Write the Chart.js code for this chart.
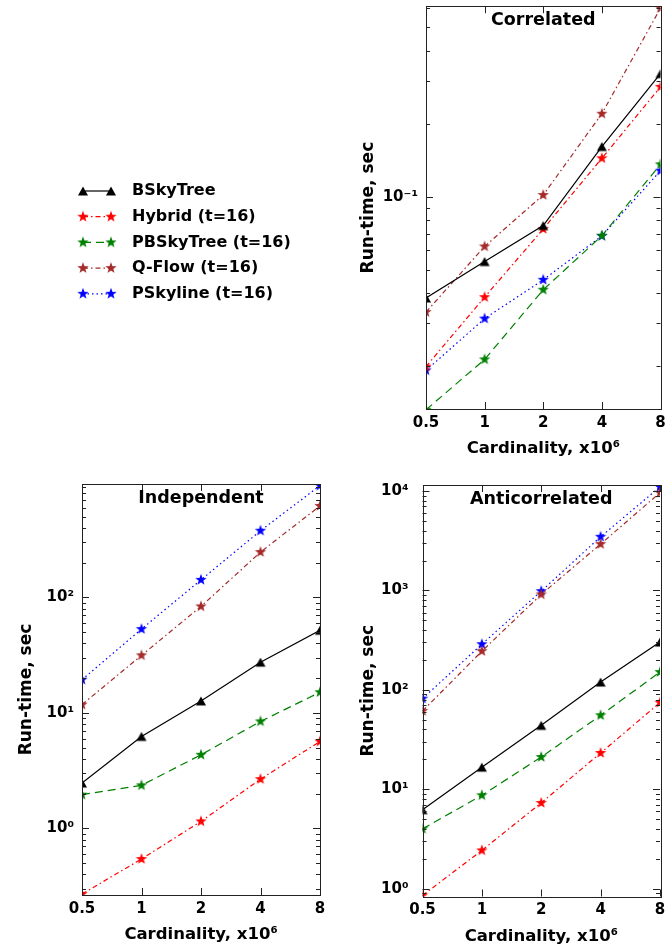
<!DOCTYPE html>
<html>
<head>
<meta charset="utf-8">
<script src="https://cdn.jsdelivr.net/npm/chart.js@4.4.1/dist/chart.umd.min.js"></script>
<style>
  body { margin: 0; background: #fff; }
  .panel { position: absolute; }
</style>
</head>
<body>
<div class="panel" style="left:0;top:0"><canvas id="corr" width="667" height="470"></canvas></div>
<div class="panel" style="left:0;top:470px"><canvas id="indep" width="333" height="480"></canvas></div>
<div class="panel" style="left:333px;top:470px"><canvas id="anti" width="334" height="480"></canvas></div>
<script>
// x categories (cardinality, x10^6)
const cardinality = ["0.5", "1", "2", "4", "8"];
const seriesNames = ["BSkyTree", "Hybrid (t=16)", "PBSkyTree (t=16)", "Q-Flow (t=16)", "PSkyline (t=16)"];

// Correlated, run-time in sec
const corrBSkyTree = [0.0382, 0.054, 0.076, 0.161, 0.322];
const corrHybrid = [0.0199, 0.0385, 0.0736, 0.144, 0.284];
const corrPBSkyTree = [0.0132, 0.0213, 0.0413, 0.069, 0.136];
const corrQFlow = [0.0334, 0.0623, 0.1016, 0.22, 0.6];
const corrPSkyline = [0.0192, 0.0314, 0.0454, 0.0689, 0.128];

// Independent
const indBSkyTree = [2.47, 6.26, 12.7, 27.5, 52];
const indHybrid = [0.27, 0.543, 1.15, 2.67, 5.66];
const indPBSkyTree = [1.96, 2.36, 4.34, 8.44, 15.1];
const indQFlow = [11.8, 31.5, 83.6, 247, 620];
const indPSkyline = [19.4, 53.2, 142, 378, 930];

// Anticorrelated
const antiBSkyTree = [6.23, 16.7, 44, 120, 303];
const antiHybrid = [0.855, 2.43, 7.3, 23.2, 74.5];
const antiPBSkyTree = [4.0, 8.7, 21.1, 55.5, 151];
const antiQFlow = [61.3, 245, 912, 2925, 9620];
const antiPSkyline = [81.7, 288, 984, 3467, 11000];

// y axis ranges
const corrRange = [0.0133, 0.611];
const indRange = [0.265, 960];
const antiRange = [0.835, 11500];

Chart.defaults.font.family = '"DejaVu Sans", sans-serif';
Chart.defaults.font.weight = "bold";
Chart.defaults.color = "#000";

const colors = ["#000000", "#ff0000", "#008000", "#a52a2a", "#0000ff"];
const dashes = [[], [5, 3, 1.5, 3], [8, 5], [5, 3, 1.5, 3], [1.5, 3]];

// marker images: triangle for BSkyTree, 5-point stars for the rest
function makeMarker(kind, color) {
  const c = document.createElement("canvas");
  c.width = 14;
  c.height = 14;
  const g = c.getContext("2d");
  g.fillStyle = color;
  g.beginPath();
  if (kind === "triangle") {
    g.moveTo(7, 2.5);
    g.lineTo(12, 11.5);
    g.lineTo(2, 11.5);
  } else {
    for (let i = 0; i < 10; i++) {
      const r = i % 2 === 0 ? 6 : 2.4;
      const a = -Math.PI / 2 + (i * Math.PI) / 5;
      g.lineTo(7 + r * Math.cos(a), 7 + r * Math.sin(a));
    }
  }
  g.closePath();
  g.fill();
  return c;
}
const markers = colors.map((c, i) => makeMarker(i === 0 ? "triangle" : "star", c));

const sup = { "-": "\u207B", "0": "\u2070", "1": "\u00B9", "2": "\u00B2", "3": "\u00B3", "4": "\u2074", "5": "\u2075", "6": "\u2076" };
function powLabel(v) {
  return "10" + String(Math.round(Math.log10(v))).split("").map((ch) => sup[ch]).join("");
}

// all log ticks (1..9 x 10^d) inside the range; k === 1 are the decades
function logTicks(min, max) {
  const ticks = [];
  for (let d = Math.floor(Math.log10(min)); d <= Math.ceil(Math.log10(max)); d++) {
    for (let k = 1; k < 10; k++) {
      const v = k * Math.pow(10, d);
      if (v >= min && v <= max) ticks.push({ value: v, major: k === 1 });
    }
  }
  return ticks;
}

// frame box with inward ticks on all four sides
const frameTicks = {
  id: "frameTicks",
  afterDatasetsDraw(chart) {
    const { ctx, chartArea: a, scales } = chart;
    ctx.save();
    ctx.strokeStyle = "#222";
    ctx.lineWidth = 1;
    ctx.beginPath();
    logTicks(scales.y.min, scales.y.max).forEach((t) => {
      const py = Math.round(scales.y.getPixelForValue(t.value)) + 0.5;
      const len = t.major ? 7 : 4;
      ctx.moveTo(a.left, py); ctx.lineTo(a.left + len, py);
      ctx.moveTo(a.right, py); ctx.lineTo(a.right - len, py);
    });
    scales.x.ticks.forEach((t, i) => {
      const px = Math.round(scales.x.getPixelForTick(i)) + 0.5;
      ctx.moveTo(px, a.bottom); ctx.lineTo(px, a.bottom - 7);
      ctx.moveTo(px, a.top); ctx.lineTo(px, a.top + 7);
    });
    ctx.stroke();
    ctx.strokeRect(Math.round(a.left) + 0.5, Math.round(a.top) + 0.5, Math.round(a.width), Math.round(a.height));
    ctx.restore();
  }
};

function panelTitle(text) {
  return {
    id: "panelTitle",
    afterDraw(chart) {
      const { ctx, chartArea: a } = chart;
      ctx.save();
      ctx.font = 'bold 17.5px "DejaVu Sans"';
      ctx.fillStyle = "#000";
      ctx.textAlign = "center";
      ctx.textBaseline = "middle";
      ctx.fillText(text, (a.left + a.right) / 2, a.top + 14);
      ctx.restore();
    }
  };
}

// legend in the free top-left corner of the figure
const legendBox = {
  id: "legendBox",
  afterDraw(chart) {
    const ctx = chart.ctx;
    chart.data.datasets.forEach((ds, i) => {
      const y = 191 + i * 25.7;
      ctx.save();
      ctx.strokeStyle = ds.borderColor;
      ctx.lineWidth = ds.borderWidth;
      ctx.setLineDash(ds.borderDash);
      ctx.beginPath();
      ctx.moveTo(83, y);
      ctx.lineTo(111, y);
      ctx.stroke();
      const m = ds.pointStyle;
      ctx.drawImage(m, 83 - m.width / 2, y - m.height / 2);
      ctx.drawImage(m, 111 - m.width / 2, y - m.height / 2);
      ctx.font = 'bold 16px "DejaVu Sans"';
      ctx.fillStyle = "#000";
      ctx.textBaseline = "middle";
      ctx.fillText(ds.label, 132, y);
      ctx.restore();
    });
  }
};

function makeChart(id, title, series, range, box, extraPlugins) {
  const datasets = series.map((values, i) => ({
    label: seriesNames[i],
    data: values,
    borderColor: colors[i],
    backgroundColor: colors[i],
    borderWidth: 1.2,
    borderDash: dashes[i],
    pointStyle: markers[i],
    pointRadius: 5,
    tension: 0,
    clip: 0
  }));
  return new Chart(document.getElementById(id), {
    type: "line",
    data: { labels: cardinality, datasets: datasets },
    options: {
      responsive: false,
      animation: false,
      events: [],
      layout: { padding: box.padding },
      plugins: { legend: { display: false }, tooltip: { enabled: false } },
      scales: {
        x: {
          type: "category",
          offset: false,
          grid: { display: false, drawTicks: false, tickLength: 0 },
          border: { display: false },
          ticks: { font: { size: 15 }, padding: 5, maxRotation: 0, autoSkip: false },
          title: { display: true, text: "Cardinality, x10\u2076", font: { size: 16.5 }, padding: 0 },
          afterFit: (s) => { s.height = box.xHeight; s.paddingLeft = 0; s.paddingRight = 0; }
        },
        y: {
          type: "logarithmic",
          min: range[0],
          max: range[1],
          grid: { display: false, drawTicks: false, tickLength: 0 },
          border: { display: false },
          // labelled ticks: decades only (minor ticks are drawn by frameTicks)
          afterBuildTicks: (s) => { s.ticks = logTicks(s.min, s.max).filter((t) => t.major); },
          ticks: {
            font: { size: 15 },
            padding: box.yPad,
            autoSkip: false,
            callback: (v) => powLabel(v)
          },
          title: { display: true, text: "Run-time, sec", font: { size: 17 }, padding: 0 },
          afterFit: (s) => { s.width = box.yWidth; s.paddingTop = 0; s.paddingBottom = 0; }
        }
      }
    },
    plugins: [frameTicks, panelTitle(title)].concat(extraPlugins)
  });
}

makeChart("corr", "Correlated",
  [corrBSkyTree, corrHybrid, corrPBSkyTree, corrQFlow, corrPSkyline], corrRange,
  { padding: { left: 358, top: 5, right: 6.5, bottom: 11 }, yWidth: 68, xHeight: 50, yPad: 8 },
  [legendBox]);

makeChart("indep", "Independent",
  [indBSkyTree, indHybrid, indPBSkyTree, indQFlow, indPSkyline], indRange,
  { padding: { left: 16, top: 14, right: 13, bottom: 5 }, yWidth: 66, xHeight: 50, yPad: 8 },
  []);

makeChart("anti", "Anticorrelated",
  [antiBSkyTree, antiHybrid, antiPBSkyTree, antiQFlow, antiPSkyline], antiRange,
  { padding: { left: 25, top: 15, right: 7, bottom: 3 }, yWidth: 64.5, xHeight: 50.5, yPad: 14 },
  []);
</script>
</body>
</html>
